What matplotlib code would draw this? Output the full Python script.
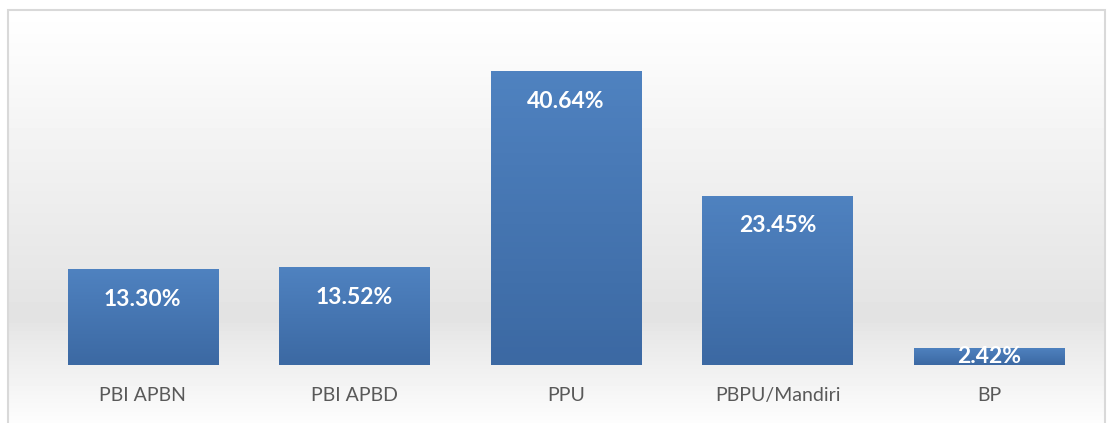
import numpy as np
import matplotlib.pyplot as plt
from matplotlib.patches import Rectangle
from matplotlib.colors import LinearSegmentedColormap

# --- Data ---
categories = ["PBI APBN", "PBI APBD", "PPU", "PBPU/Mandiri", "BP"]
shares = [13.30, 13.52, 40.64, 23.45, 2.42]
labels = [f"{v:.2f}%" for v in shares]

W, H = 1113, 423
fig = plt.figure(figsize=(W / 100, H / 100), dpi=100)
fig.patch.set_facecolor("white")

# background panel with soft vertical gradient (white -> light gray -> white)
bg = fig.add_axes([8 / W, -10 / H, 1097 / W, 423 / H])
bg.set_axis_off()
grad = np.concatenate([np.linspace(1.0, 0.89, 72), np.linspace(0.89, 1.0, 28)])
bg.imshow(grad[:, None], aspect="auto", cmap="gray", vmin=0, vmax=1,
          extent=[0, 1, 0, 1])
bg.set_xlim(0, 1)
bg.set_ylim(0, 1)
bg.add_patch(Rectangle((0, 0), 1, 1, fill=False, edgecolor="#d9d9d9",
                       linewidth=1.5, transform=bg.transAxes, clip_on=False))

ax = fig.add_axes([37 / W, 58 / H, 1058 / W, 325 / H])
ax.set_facecolor("none")
x = np.arange(len(categories))
bars = ax.bar(x, shares, width=0.71, color="#4A7EBB", zorder=2)

# subtle vertical gradient inside each bar
bar_cmap = LinearSegmentedColormap.from_list("b", ["#3C69A3", "#4F82C0"])
for b in bars:
    x0, y0 = b.get_x(), b.get_y()
    im = ax.imshow(np.linspace(0, 1, 50)[:, None], cmap=bar_cmap, aspect="auto",
                   origin="lower", extent=[x0, x0 + b.get_width(), y0, y0 + b.get_height()],
                   zorder=2.5)
    im.set_clip_path(b)

for xi, v, lab in zip(x, shares, labels):
    ypos = v - 4.2 if v > 8 else v / 2
    ax.text(xi, ypos, lab, ha="center", va="center", color="white",
            fontsize=16.5, fontweight="bold", family="Lato", zorder=3)

ax.set_xlim(-0.5, len(categories) - 0.5)
ax.set_ylim(0, 45)
ax.set_xticks(x)
ax.set_xticklabels(categories, fontsize=14, color="#595959", family="Lato")
ax.tick_params(axis="x", length=0, pad=16)
ax.set_yticks([])
for s in ax.spines.values():
    s.set_visible(False)

fig.savefig("out.png", dpi=100)
